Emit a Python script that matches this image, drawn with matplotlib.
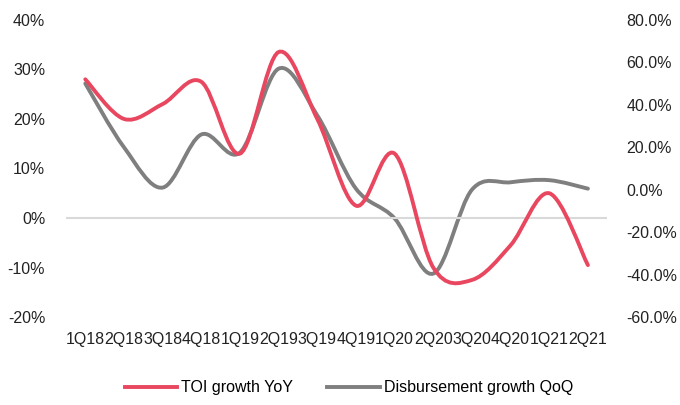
"""plot.py

TOI growth YoY (left axis) vs disbursement growth QoQ (right axis), smoothed lines.
"""
import numpy as np
import matplotlib
matplotlib.use("Agg")
import matplotlib.pyplot as plt
from matplotlib.path import Path
from matplotlib.patches import PathPatch
from matplotlib.lines import Line2D
from matplotlib.ticker import FuncFormatter

plt.rcParams["font.family"] = ["Liberation Sans", "DejaVu Sans"]

quarters = ["1Q18", "2Q18", "3Q18", "4Q18", "1Q19", "2Q19", "3Q19",
            "4Q19", "1Q20", "2Q20", "3Q20", "4Q20", "1Q21", "2Q21"]
toi_growth_yoy = [28.0, 20.0, 23.0, 27.5, 13.0, 33.5, 20.0,
                  2.5, 13.0, -10.0, -12.5, -5.5, 5.0, -9.5]
disb_growth_qoq = [50.0, 20.0, 1.0, 26.0, 17.5, 57.0, 35.0,
                   0.5, -13.5, -39.5, 0.0, 3.5, 4.5, 0.5]

RED = "#E8475F"
GREY = "#7F7F7F"
FS = 11.5


def smooth_path(xs, ys):
    """Excel-style smoothed line: cubic Bezier segments through every point."""
    pts = np.column_stack([xs, ys]).astype(float)
    n = len(pts)
    verts = [pts[0]]
    codes = [Path.MOVETO]
    for i in range(n - 1):
        p0 = pts[i - 1] if i > 0 else pts[i]
        p1 = pts[i]
        p2 = pts[i + 1]
        p3 = pts[i + 2] if i + 2 < n else pts[i + 1]
        c1 = p1 + (p2 - p0) / 6.0
        c2 = p2 - (p3 - p1) / 6.0
        verts += [c1, c2, p2]
        codes += [Path.CURVE4] * 3
    return Path(verts, codes)


fig = plt.figure(figsize=(6.8, 4.05), dpi=100)
ax = fig.add_axes([0.097, 0.217, 0.796, 0.734])
ax2 = ax.twinx()

x = np.arange(len(quarters))

ax.axhline(0, color="#D9D9D9", lw=1.5, zorder=1)
ax.add_patch(PathPatch(smooth_path(x, toi_growth_yoy), fill=False,
                       edgecolor=RED, lw=2.8, capstyle="round", zorder=3))
ax2.add_patch(PathPatch(smooth_path(x, disb_growth_qoq), fill=False,
                        edgecolor=GREY, lw=2.8, capstyle="round", zorder=2))
ax.set_zorder(ax2.get_zorder() + 1)
ax.patch.set_visible(False)

ax.set_xlim(-0.5, len(quarters) - 0.5)
ax.set_ylim(-20, 40)
ax.set_yticks(np.arange(-20, 41, 10))
ax.yaxis.set_major_formatter(FuncFormatter(lambda v, _: f"{v:.0f}%"))
ax2.set_ylim(-60, 80)
ax2.set_yticks(np.arange(-60, 81, 20))
ax2.yaxis.set_major_formatter(FuncFormatter(lambda v, _: f"{v:.1f}%"))

ax.set_xticks(x)
ax.set_xticklabels(quarters)

for a in (ax, ax2):
    for s in a.spines.values():
        s.set_visible(False)
    a.tick_params(length=0, labelsize=FS, colors="#222222")
ax.tick_params(axis="y", pad=15)
ax2.tick_params(axis="y", pad=14)
ax.tick_params(axis="x", pad=11)

handles = [Line2D([], [], color=RED, lw=2.8),
           Line2D([], [], color=GREY, lw=2.8)]
fig.legend(handles, ["TOI growth YoY", "Disbursement growth QoQ"],
           loc="center", bbox_to_anchor=(0.513, 0.042), ncol=2, frameon=False,
           fontsize=FS, handlelength=3.3, handletextpad=0.25, columnspacing=2.1)

fig.savefig("out.png", dpi=100)
